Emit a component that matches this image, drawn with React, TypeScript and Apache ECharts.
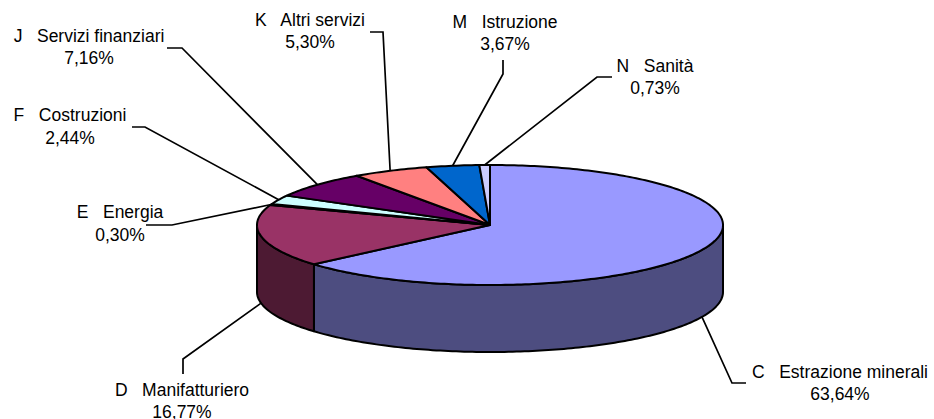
import React, { useEffect, useRef } from "react";
import * as echarts from "echarts";

const categories = [
  "C   Estrazione minerali",
  "D   Manifatturiero",
  "E   Energia",
  "F   Costruzioni",
  "J   Servizi finanziari",
  "K   Altri servizi",
  "M   Istruzione",
  "N   Sanità",
];
const values = [63.64, 16.77, 0.3, 2.44, 7.16, 5.3, 3.67, 0.73];

const topColors = ["#9999FF", "#993366", "#FFFFCC", "#CCFFFF", "#660066", "#FF8080", "#0066CC", "#CCCCFF"];
const sideColors = ["#4D4D80", "#4D1A33", "#808066", "#668080", "#330033", "#804040", "#003366", "#666680"];

// layout: label centre x, first line y, second line y, then the leader's elbow points
const labelLayout: { x: number; y1: number; y2: number; elbow: number[][] }[] = [
  { x: 840, y1: 372, y2: 394, elbow: [[746, 383], [732, 383]] },
  { x: 182, y1: 390, y2: 412, elbow: [[183, 374], [183, 359]] },
  { x: 120, y1: 212, y2: 235, elbow: [[146, 225], [172, 225]] },
  { x: 70, y1: 115, y2: 138, elbow: [[132, 127], [145, 127]] },
  { x: 89, y1: 36, y2: 58, elbow: [[167, 48], [182, 48]] },
  { x: 310, y1: 20, y2: 42, elbow: [[370, 32], [383, 32]] },
  { x: 505, y1: 22, y2: 44, elbow: [[503, 60], [503, 74]] },
  { x: 655, y1: 66, y2: 88, elbow: [[612, 77], [597, 77]] },
];

const CX = 490;
const CY = 225;
const RX = 233;
const RY = 60;
const DEPTH = 67;
const FONT = '17.5px "Liberation Sans", Arial, sans-serif';
const total = values.reduce((a, b) => a + b, 0);

const pt = (deg: number, dy = 0) => {
  const r = (deg * Math.PI) / 180;
  return [CX + RX * Math.sin(r), CY - RY * Math.cos(r) + dy];
};
const arc = (a: number, b: number, dy = 0) => {
  const out: number[][] = [];
  const n = Math.max(2, Math.ceil(Math.abs(b - a)));
  for (let i = 0; i <= n; i++) out.push(pt(a + ((b - a) * i) / n, dy));
  return out;
};
const pctText = (v: number) => v.toFixed(2).replace(".", ",") + "%";

function renderItem(params: any, api: any) {
  const i = params.dataIndex;
  const v = api.value(0);
  let before = 0;
  for (let k = 0; k < i; k++) before += values[k];
  const a0 = (before / total) * 360;
  const a1 = a0 + (v / total) * 360;
  const mid = (a0 + a1) / 2;
  const edge = { stroke: "#000", lineWidth: 2, lineJoin: "round" };
  const children: any[] = [];

  const s0 = Math.max(a0, 90);
  const s1 = Math.min(a1, 270);
  if (s1 > s0) {
    children.push({
      type: "polygon",
      shape: { points: [...arc(s0, s1), ...arc(s1, s0, DEPTH)] },
      style: { fill: sideColors[i], ...edge },
    });
  }
  children.push({
    type: "polygon",
    shape: { points: [[CX, CY], ...arc(a0, a1)] },
    style: { fill: topColors[i], ...edge },
  });

  const lay = labelLayout[i];
  const front = mid > 90 && mid < 270;
  children.push({
    type: "polyline",
    shape: { points: [...lay.elbow, pt(mid, front ? DEPTH : 0)] },
    style: { fill: "none", stroke: "#000", lineWidth: 1.7 },
  });
  children.push({
    type: "text",
    style: { text: categories[i], x: lay.x, y: lay.y1, font: FONT, fill: "#000", align: "center", verticalAlign: "middle" },
  });
  children.push({
    type: "text",
    style: { text: pctText(v), x: lay.x, y: lay.y2, font: FONT, fill: "#000", align: "center", verticalAlign: "middle" },
  });
  return { type: "group", children };
}

export default function App() {
  const ref = useRef<HTMLDivElement>(null);
  useEffect(() => {
    document.body.style.margin = "0";
    const chart = echarts.init(ref.current!, null, { renderer: "svg" });
    chart.setOption({
      animation: false,
      backgroundColor: "#fff",
      series: [
        {
          type: "custom",
          coordinateSystem: "none",
          renderItem,
          silent: true,
          clip: false,
          data: values.map((v, i) => ({ name: categories[i], value: [v] })),
        },
      ],
    });
    return () => chart.dispose();
  }, []);
  return <div ref={ref} style={{ width: 934, height: 419 }} />;
}
